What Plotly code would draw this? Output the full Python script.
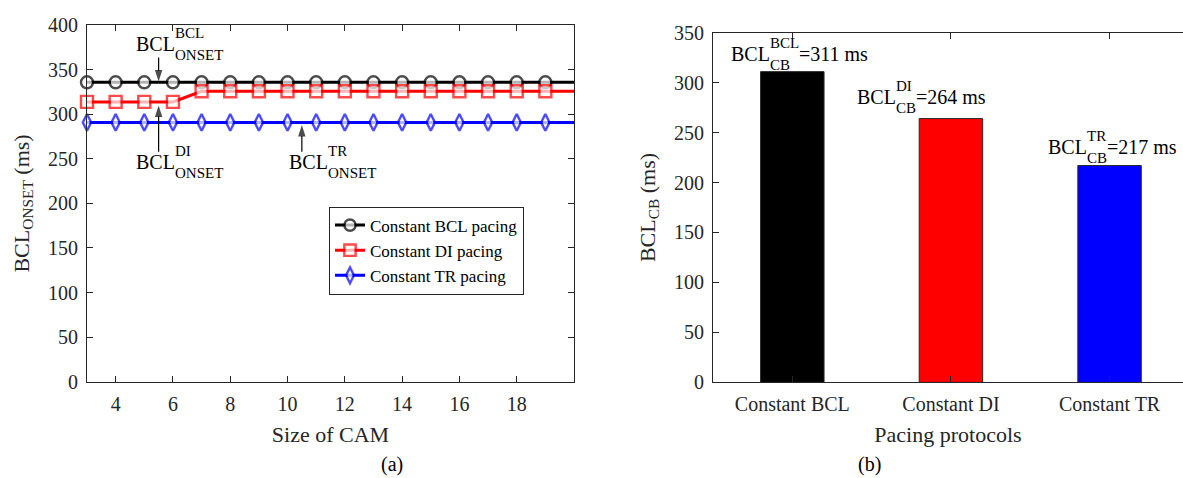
import plotly.graph_objects as go

# ---- data -------------------------------------------------------------
cam_size = [3, 4, 5, 6, 7, 8, 9, 10, 11, 12, 13, 14, 15, 16, 17, 18, 19, 20]
onset_const_bcl = [336, 336, 336, 336, 336, 336, 336, 336, 336, 336, 336, 336, 336, 336, 336, 336, 336, 336]
onset_const_di = [314, 314, 314, 314, 326, 326, 326, 326, 326, 326, 326, 326, 326, 326, 326, 326, 326, 326]
onset_const_tr = [291, 291, 291, 291, 291, 291, 291, 291, 291, 291, 291, 291, 291, 291, 291, 291, 291, 291]

protocols = ["Constant BCL", "Constant DI", "Constant TR"]
protocol_keys = ["BCL", "DI", "TR"]
bcl_cb = [311, 264, 217]

series_names = ["Constant BCL pacing", "Constant DI pacing", "Constant TR pacing"]
x_ticks = [4, 6, 8, 10, 12, 14, 16, 18]

# ---- style ------------------------------------------------------------
W, H = 1183, 478
FONT = "Liberation Serif"
INK = "#262626"
FS, FS_SMALL, FS_TITLE = 20, 15, 22
colors = ["#000000", "#ff0000", "#0000ff"]
symbols = ["circle", "square", "diamond-tall"]

# Times advance widths (em) used to chain stacked super/subscripts
ADV = {"B": .667, "C": .667, "L": .611, "O": .722, "N": .722, "S": .556,
       "E": .611, "T": .611, "D": .722, "I": .333, "R": .667, "=": .564,
       " ": .25, "m": .778, "s": .389}


def text_width(s, size):
    return sum(ADV.get(c, .5) for c in s) * size


def stacked_label(xref, yref, x, y, sup, sub, tail=""):
    base = "BCL"
    w0 = text_width(base, FS)
    common = dict(xref=xref, yref=yref, x=x, y=y, xanchor="left",
                  yanchor="middle", showarrow=False)
    anns = [
        dict(common, text=base, font=dict(family=FONT, size=FS, color="black")),
        dict(common, text=sup, xshift=w0, yshift=11,
             font=dict(family=FONT, size=FS_SMALL, color="black")),
        dict(common, text=sub, xshift=w0, yshift=-11,
             font=dict(family=FONT, size=FS_SMALL, color="black")),
    ]
    if tail:
        w1 = max(text_width(sup, FS_SMALL), text_width(sub, FS_SMALL))
        anns.append(dict(common, text=tail, xshift=w0 + w1,
                         font=dict(family=FONT, size=FS, color="black")))
    return anns


fig = go.Figure()

# ---- (a) onset BCL versus CAM size -------------------------------------
marker_sizes = [12] * (len(cam_size) - 1) + [0]
for vals, name, col, sym in zip([onset_const_bcl, onset_const_di, onset_const_tr],
                                series_names, colors, symbols):
    fig.add_trace(go.Scatter(
        x=cam_size, y=vals, name=name, mode="lines+markers",
        line=dict(color=col, width=3),
        marker=dict(symbol=sym, size=marker_sizes, color="white",
                    line=dict(color=col, width=2.4)),
        cliponaxis=False, xaxis="x", yaxis="y"))

# pointer arrows from the labels to the curves (tail, tip)
pointers = [(5.5, 364, 337), (5.5, 258, 310), (10.5, 258, 288)]
for px, y_tail, y_tip in pointers:
    fig.add_trace(go.Scatter(
        x=[px, px], y=[y_tail, y_tip], mode="lines+markers",
        line=dict(color="black", width=1.2),
        marker=dict(symbol="arrow", size=[0, 12], angleref="previous",
                    color="black", line=dict(width=0)),
        showlegend=False, hoverinfo="skip", xaxis="x", yaxis="y"))

# ---- (b) conduction-block BCL per protocol -----------------------------
fig.add_trace(go.Bar(
    x=protocols, y=bcl_cb, width=0.4,
    marker=dict(color=colors, line=dict(color=INK, width=1)),
    showlegend=False, xaxis="x2", yaxis="y2"))

annotations = []
annotations += stacked_label("x", "y", 4.65, 379, "BCL", "ONSET")
annotations += stacked_label("x", "y", 4.65, 246, "DI", "ONSET")
annotations += stacked_label("x", "y", 9.98, 246, "TR", "ONSET")

label_pos = [(-0.40, 329), (0.394, 286), (1.60, 236)]
for (lx, ly), key, v in zip(label_pos, protocol_keys, bcl_cb):
    annotations += stacked_label("x2", "y2", lx, ly, key, "CB", f"={v} ms")

for txt, cx in [("(a)", 392), ("(b)", 870)]:
    annotations.append(dict(xref="paper", yref="paper", x=cx / W, y=1 - 475 / H,
                            xanchor="center", yanchor="middle",
                            text=txt, showarrow=False,
                            font=dict(family=FONT, size=FS, color="black")))

axis_common = dict(showline=True, linecolor=INK, linewidth=1, ticks="inside",
                   ticklen=6, tickcolor=INK, showgrid=False, zeroline=False,
                   tickfont=dict(family=FONT, size=FS, color=INK))

fig.update_layout(
    width=W, height=H, margin=dict(l=0, r=0, t=0, b=0),
    paper_bgcolor="white", plot_bgcolor="white",
    font=dict(family=FONT, size=FS, color=INK),
    xaxis=dict(axis_common, domain=[87 / W, 574 / W], range=[3, 20],
               tickvals=x_ticks, mirror="ticks", anchor="y",
               ticklabelstandoff=4,
               title=dict(text="Size of CAM", standoff=12,
                          font=dict(family=FONT, size=FS_TITLE, color=INK))),
    yaxis=dict(axis_common, domain=[1 - 388.5 / H, 1 - 15 / H], range=[0, 400],
               dtick=50, mirror="ticks", anchor="x", ticklabelstandoff=4,
               title=dict(text="BCL<sub>ONSET</sub> (ms)", standoff=12,
                          font=dict(family=FONT, size=FS_TITLE, color=INK))),
    xaxis2=dict(axis_common, domain=[713 / W, 1.0], type="category",
                range=[-0.5, 2.463], mirror="ticks", anchor="y2",
                ticklabelstandoff=4,
                title=dict(text="Pacing protocols", standoff=12,
                           font=dict(family=FONT, size=FS_TITLE, color=INK))),
    yaxis2=dict(axis_common, domain=[1 - 389.3 / H, 1 - 22.7 / H], range=[0, 350],
                dtick=50, anchor="x2", ticklabelstandoff=4,
                title=dict(text="BCL<sub>CB</sub> (ms)", standoff=12,
                           font=dict(family=FONT, size=FS_TITLE, color=INK))),
    legend=dict(x=329 / W, y=1 - 205 / H, xanchor="left", yanchor="top",
                bgcolor="white", bordercolor=INK, borderwidth=1,
                font=dict(family=FONT, size=17, color="black"),
                tracegroupgap=0, itemwidth=30),
    annotations=annotations,
    showlegend=True,
)

fig.write_html("out.html")
